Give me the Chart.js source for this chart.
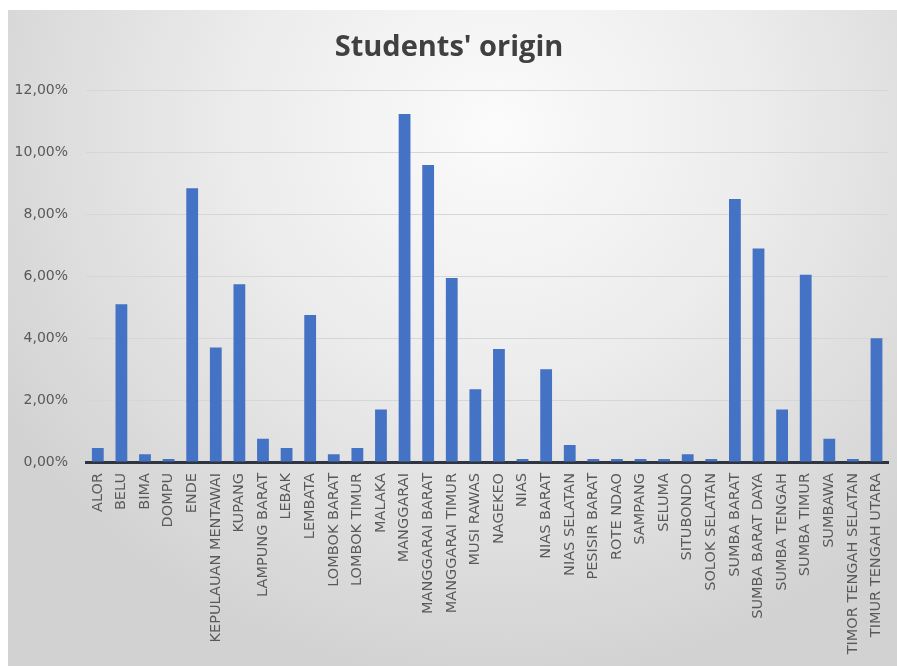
<!DOCTYPE html>
<html>
<head>
<meta charset="utf-8">
<script src="https://cdn.jsdelivr.net/npm/chart.js@4"></script>
<style>
  html, body { margin: 0; padding: 0; background: #fff; }
  #wrap {
    position: absolute; left: 8px; top: 10px; width: 889px; height: 656px;
    background: radial-gradient(ellipse 65% 85% at 55% 18%, #fbfbfb 0%, #ececec 45%, #d2d2d2 100%);
  }
  canvas { display: block; }
</style>
</head>
<body>
<div id="wrap"><canvas id="c" width="889" height="656"></canvas></div>
<script>
const categories = ['ALOR', 'BELU', 'BIMA', 'DOMPU', 'ENDE', 'KEPULAUAN MENTAWAI', 'KUPANG',
  'LAMPUNG BARAT', 'LEBAK', 'LEMBATA', 'LOMBOK BARAT', 'LOMBOK TIMUR', 'MALAKA', 'MANGGARAI',
  'MANGGARAI BARAT', 'MANGGARAI TIMUR', 'MUSI RAWAS', 'NAGEKEO', 'NIAS', 'NIAS BARAT',
  'NIAS SELATAN', 'PESISIR BARAT', 'ROTE NDAO', 'SAMPANG', 'SELUMA', 'SITUBONDO',
  'SOLOK SELATAN', 'SUMBA BARAT', 'SUMBA BARAT DAYA', 'SUMBA TENGAH', 'SUMBA TIMUR',
  'SUMBAWA', 'TIMOR TENGAH SELATAN', 'TIMUR TENGAH UTARA'];

// share of students, percent
const shares = [0.45, 5.1, 0.25, 0.1, 8.85, 3.7, 5.75,
  0.75, 0.45, 4.75, 0.25, 0.45, 1.7, 11.25,
  9.6, 5.95, 2.35, 3.65, 0.1, 3.0,
  0.55, 0.1, 0.1, 0.1, 0.1, 0.25,
  0.1, 8.5, 6.9, 1.7, 6.05,
  0.75, 0.1, 4.0];

const yTicks = [0, 2, 4, 6, 8, 10, 12];

const pct = v => v.toFixed(2).replace('.', ',') + '%';

new Chart(document.getElementById('c'), {
  type: 'bar',
  data: {
    labels: categories,
    datasets: [{
      data: shares,
      backgroundColor: '#4472c4',
      barPercentage: 0.5,
      categoryPercentage: 1,
    }],
  },
  options: {
    responsive: false,
    animation: false,
    layout: { padding: { left: 0, right: 7, top: 0, bottom: 0 } },
    plugins: {
      legend: { display: false },
      tooltip: { enabled: false },
      title: {
        display: true,
        text: "Students' origin",
        color: '#404040',
        font: { family: 'Open Sans', size: 29, weight: 'bold' },
        padding: { top: 20, bottom: 26 },
      },
    },
    scales: {
      x: {
        grid: { display: false },
        border: { display: true, color: '#2e3440', width: 3 },
        ticks: {
          color: '#595959',
          font: { family: 'DejaVu Sans', size: 14.5 },
          minRotation: 90, maxRotation: 90,
          autoSkip: false,
          padding: 3,
        },
        afterFit: s => { s.height = 204; },
      },
      y: {
        min: 0, max: 12,
        afterBuildTicks: s => { s.ticks = yTicks.map(v => ({ value: v })); },
        grid: { color: '#d6d6d6', lineWidth: 1, drawTicks: false },
        border: { display: false },
        ticks: {
          color: '#595959',
          font: { family: 'DejaVu Sans', size: 14 },
          padding: 18,
          callback: v => pct(v),
        },
        afterFit: s => { s.width = 78; },
      },
    },
  },
});
</script>
</body>
</html>
